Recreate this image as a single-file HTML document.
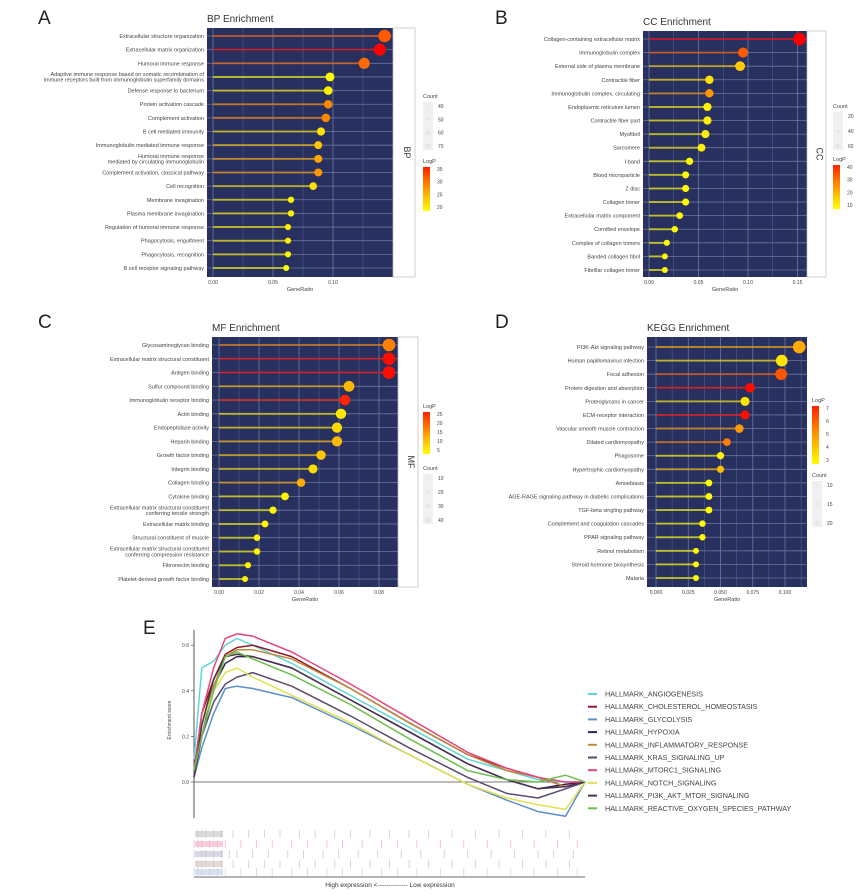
<!DOCTYPE html>
<html><head><meta charset="utf-8">
<style>
html,body{margin:0;padding:0;background:#fff;}
svg{display:block;font-family:"Liberation Sans",sans-serif;}
</style></head>
<body>
<svg id="fig" width="860" height="894" viewBox="0 0 860 894" xmlns="http://www.w3.org/2000/svg"></svg>
<script>
// ---------- Panel A (BP) ----------
const bpTerms = ["Extracellular structure organization","Extracellular matrix organization","Humoral immune response","Adaptive immune response based on somatic recombination of\nimmune receptors built from immunoglobulin superfamily domains","Defense response to bacterium","Protein activation cascade","Complement activation","B cell mediated immunity","Immunoglobulin mediated immune response","Humoral immune response\nmediated by circulating immunoglobulin","Complement activation, classical pathway","Cell recognition","Membrane invagination","Plasma membrane invagination","Regulation of humoral immune response","Phagocytosis, engulfment","Phagocytosis, recognition","B cell receptor signaling pathway"];
const bpRatio = [0.143,0.139,0.126,0.0975,0.096,0.096,0.094,0.090,0.0877,0.0877,0.0877,0.0835,0.065,0.065,0.0625,0.0625,0.0625,0.061];
const bpLogP = [31,37,30,20,21,28,28,22,24,26,27,22,21,21,21,21,21,20];
const bpCount = [72,70,64,52,50,50,50,48,47,47,47,45,38,38,37,37,37,36];
const bpTicks = [0,0.05,0.10];
const bpTickLabels = ["0.00","0.05","0.10"];
// ---------- Panel B (CC) ----------
const ccTerms = ["Collagen-containing extracellular matrix","Immunoglobulin complex","External side of plasma membrane","Contractile fiber","Immunoglobulin complex, circulating","Endoplasmic reticulum lumen","Contractile fiber part","Myofibril","Sarcomere","I band","Blood microparticle","Z disc","Collagen trimer","Extracellular matrix component","Cornified envelope","Complex of collagen trimers","Banded collagen fibril","Fibrillar collagen trimer"];
const ccRatio = [0.152,0.095,0.092,0.061,0.061,0.059,0.059,0.057,0.053,0.041,0.037,0.037,0.037,0.031,0.026,0.018,0.016,0.016];
const ccLogP = [42,30,15,12,22,10,10,10,10,9,9,9,9,9,8,8,8,8];
const ccCount = [62,42,40,28,28,27,27,26,24,20,18,18,18,15,13,10,9,9];
const ccTicks = [0,0.05,0.10,0.15];
const ccTickLabels = ["0.00","0.05","0.10","0.15"];
// ---------- Panel C (MF) ----------
const mfTerms = ["Glycosaminoglycan binding","Extracellular matrix structural constituent","Antigen binding","Sulfur compound binding","Immunoglobulin receptor binding","Actin binding","Endopeptidase activity","Heparin binding","Growth factor binding","Integrin binding","Collagen binding","Cytokine binding","Extracellular matrix structural constituent\nconferring tensile strength","Extracellular matrix binding","Structural constituent of muscle","Extracellular matrix structural constituent\nconferring compression resistance","Fibronectin binding","Platelet-derived growth factor binding"];
const mfRatio = [0.085,0.085,0.085,0.065,0.063,0.061,0.059,0.059,0.051,0.047,0.041,0.033,0.027,0.023,0.019,0.019,0.0145,0.013];
const mfLogP = [15,25,25,10,23,6,7,10,9,7,11,5,5,5,5,5,5,5];
const mfCount = [42,42,42,32,31,30,29,29,25,23,20,16,13,11,9,9,7,6];
const mfTicks = [0,0.02,0.04,0.06,0.08];
const mfTickLabels = ["0.00","0.02","0.04","0.06","0.08"];
// ---------- Panel D (KEGG) ----------
const kgTerms = ["PI3K-Akt signaling pathway","Human papillomavirus infection","Focal adhesion","Protein digestion and absorption","Proteoglycans in cancer","ECM-receptor interaction","Vascular smooth muscle contraction","Dilated cardiomyopathy","Phagosome","Hypertrophic cardiomyopathy","Amoebiasis","AGE-RAGE signaling pathway in diabetic complications","TGF-beta singling pathway","Complement and coagulation cascades","PPAR signaling pathway","Retinol metabolism","Steroid hormone biosynthesis","Malaria"];
const kgRatio = [0.111,0.0975,0.097,0.073,0.069,0.069,0.0646,0.055,0.050,0.050,0.041,0.041,0.041,0.036,0.036,0.031,0.031,0.031];
const kgLogP = [4.5,3.5,6,7.3,3.5,7.3,4.8,5.3,3.2,4.2,3,3,3,3,3,3,3,3];
const kgCount = [22,20,20,15,14,14,13,11,10,10,9,9,9,8,8,7,7,7];
const kgTicks = [0,0.025,0.05,0.075,0.1];
const kgTickLabels = ["0.000","0.025","0.050","0.075","0.100"];
// ---------- Panel E (GSEA) ----------
const gseaSets = ["HALLMARK_ANGIOGENESIS","HALLMARK_CHOLESTEROL_HOMEOSTASIS","HALLMARK_GLYCOLYSIS","HALLMARK_HYPOXIA","HALLMARK_INFLAMMATORY_RESPONSE","HALLMARK_KRAS_SIGNALING_UP","HALLMARK_MTORC1_SIGNALING","HALLMARK_NOTCH_SIGNALING","HALLMARK_PI3K_AKT_MTOR_SIGNALING","HALLMARK_REACTIVE_OXYGEN_SPECIES_PATHWAY"];
const gseaPos = [0,0.02,0.05,0.08,0.11,0.15,0.25,0.4,0.55,0.7,0.8,0.88,0.95,1];
const esAngio = [0.1,0.5,0.53,0.6,0.63,0.6,0.52,0.38,0.24,0.1,0.05,0.01,0.0,0.0];
const esChol = [0.05,0.3,0.45,0.56,0.59,0.6,0.55,0.41,0.26,0.12,0.06,0.02,-0.02,0];
const esGlyc = [0.02,0.15,0.3,0.41,0.42,0.41,0.37,0.25,0.12,-0.01,-0.08,-0.13,-0.15,0];
const esHypox = [0.02,0.2,0.42,0.52,0.55,0.55,0.5,0.36,0.22,0.08,0.01,-0.03,-0.01,0];
const esInfl = [0.05,0.25,0.42,0.55,0.58,0.58,0.54,0.41,0.26,0.12,0.05,0.02,-0.02,0];
const esKras = [0.03,0.2,0.35,0.43,0.46,0.48,0.42,0.29,0.15,0.02,-0.05,-0.07,-0.03,0];
const esMtorc = [0.05,0.3,0.5,0.63,0.65,0.64,0.57,0.43,0.28,0.13,0.06,0.02,0.0,0];
const esNotch = [0.02,0.25,0.4,0.48,0.5,0.46,0.38,0.26,0.12,-0.01,-0.07,-0.1,-0.12,0];
const esPi3k = [0.02,0.25,0.45,0.55,0.56,0.55,0.5,0.36,0.22,0.08,0.01,-0.03,-0.02,0];
const esRos = [0.05,0.2,0.4,0.55,0.57,0.54,0.47,0.34,0.19,0.05,0.01,0.0,0.03,0];
const esTicks = [0,0.2,0.4,0.6];
const esTickLabels = ["0.0","0.2","0.4","0.6"];
const rugHitsA = [0.01,0.02,0.03,0.05,0.07,0.1,0.14,0.18,0.22,0.27,0.31,0.36,0.4,0.45,0.5,0.55,0.6,0.66,0.72,0.78,0.84,0.9,0.96];
const rugHitsB = [0.0,0.01,0.02,0.04,0.06,0.08,0.12,0.16,0.2,0.25,0.29,0.34,0.38,0.43,0.48,0.52,0.57,0.63,0.69,0.75,0.81,0.87,0.93,0.98];
const rugHitsC = [0.0,0.02,0.03,0.05,0.07,0.09,0.11,0.15,0.19,0.24,0.28,0.33,0.37,0.42,0.47,0.53,0.58,0.64,0.7,0.76,0.82,0.88,0.92,0.97];

const SVGNS = "http://www.w3.org/2000/svg";
const fig = document.getElementById('fig');
function mk(tag, attrs, parent, name, inter) {
  const el = document.createElementNS(SVGNS, tag);
  for (const k in attrs) el.setAttribute(k, attrs[k]);
  
  
  (parent || fig).appendChild(el);
  return el;
}
function txt(x, y, s, attrs, parent, name) {
  const a = Object.assign({x: x, y: y}, attrs);
  const t = mk('text', a, parent, name, false);
  t.textContent = s;
  return t;
}
function lpColor(v, lo, hi) {
  let f = (v - lo) / (hi - lo); f = Math.max(0, Math.min(1, f));
  return 'rgb(255,' + Math.round(255 * (1 - f)) + ',0)';
}

function lollipop(cfg) {
  const g = mk('g', {}, fig, cfg.name, false);
  const xs = v => cfg.x0 + v * cfg.k;
  const n = cfg.terms.length;
  const ys = i => cfg.yTop + i * (cfg.yBot - cfg.yTop) / (n - 1);
  txt(cfg.px, cfg.py - 6, cfg.title, {'font-size': 10, fill: '#333'}, g, 'panel-title');
  mk('rect', {x: cfg.px, y: cfg.py, width: cfg.pw, height: cfg.ph, fill: '#27305f'}, g, 'plot-background', false);
  const step = cfg.ticks[1] - cfg.ticks[0];
  for (let i = -1; i < cfg.ticks.length + 1; i++) {
    const xm = xs(cfg.ticks[0] + (i + 0.5) * step);
    if (xm > cfg.px && xm < cfg.px + cfg.pw)
      mk('line', {x1: xm, x2: xm, y1: cfg.py, y2: cfg.py + cfg.ph, stroke: '#5a6390', 'stroke-width': 0.5}, g, 'minor-gridline', false);
  }
  cfg.ticks.forEach((t, i) => {
    const x = xs(t);
    mk('line', {x1: x, x2: x, y1: cfg.py, y2: cfg.py + cfg.ph, stroke: '#6d769f', 'stroke-width': 0.8}, g, 'major-gridline', false);
    txt(x, cfg.py + cfg.ph + 7, cfg.tickLabels[i], {'font-size': 5, fill: '#444', 'text-anchor': 'middle'}, g, 'x-tick-label');
  });
  txt(cfg.px + cfg.pw / 2, cfg.py + cfg.ph + 14, 'GeneRatio', {'font-size': 5.5, fill: '#444', 'text-anchor': 'middle'}, g, 'x-axis-title');
  for (let i = 0; i < n; i++) {
    const y = ys(i);
    mk('line', {x1: cfg.px, x2: cfg.px + cfg.pw, y1: y, y2: y, stroke: '#6d769f', 'stroke-width': 0.8}, g, 'row-gridline', false);
  }
  for (let i = 0; i < n; i++) {
    const y = ys(i);
    const col = lpColor(cfg.logp[i], cfg.lpLo, cfg.lpHi);
    mk('line', {x1: xs(0), x2: xs(cfg.ratio[i]), y1: y, y2: y, stroke: col, 'stroke-width': 2, 'stroke-opacity': 0.6}, g, 'lollipop-stem', false);
    const r = 3 + 3.3 * Math.max(0, (cfg.count[i] - cfg.cLo) / (cfg.cHi - cfg.cLo));
    mk('circle', {cx: xs(cfg.ratio[i]), cy: y, r: r, fill: col}, g, 'lollipop-dot', true);
    const lines = cfg.terms[i].split('\n');
    lines.forEach((s, j) => {
      txt(cfg.px - 3, y + 2 + (j - (lines.length - 1) / 2) * 5.6, s, {'font-size': 5.5, fill: '#444', 'text-anchor': 'end'}, g, 'y-category-label');
    });
  }
  if (cfg.strip) {
    mk('rect', {x: cfg.px + cfg.pw, y: cfg.py, width: cfg.stripW, height: cfg.ph, fill: '#fff', stroke: '#bbb', 'stroke-width': 0.7}, g, 'facet-strip', false);
    const sx = cfg.px + cfg.pw + cfg.stripW / 2, sy = cfg.py + cfg.ph / 2;
    txt(sx, sy, cfg.strip, {'font-size': 9, fill: '#333', 'text-anchor': 'middle', transform: 'rotate(90 ' + sx + ' ' + sy + ')'}, g, 'facet-label');
  }
  txt(cfg.lx, cfg.ly, cfg.letter, {'font-size': 19, fill: '#222'}, g, 'panel-letter');
  cfg.legends.forEach(L => {
    if (L.type === 'count') {
      txt(L.x, L.y, 'Count', {'font-size': 5.5, fill: '#444'}, g, 'count-legend-title');
      mk('rect', {x: L.x, y: L.y + 4, width: 10, height: L.h, fill: '#f0f0f0'}, g, 'count-legend-keys', false);
      L.labels.forEach((s, i) => {
        const y = L.y + 10 + i * (L.h - 8) / (L.labels.length - 1);
        mk('circle', {cx: L.x + 5, cy: y - 2, r: 1 + i * 0.6, fill: '#e6e6e6'}, g, 'count-legend-dot', false);
        txt(L.x + 15, y, s, {'font-size': 5, fill: '#444'}, g, 'count-legend-label');
      });
    } else {
      txt(L.x, L.y, 'LogP', {'font-size': 5.5, fill: '#444'}, g, 'logp-legend-title');
      const gid = 'grad' + cfg.letter;
      const defs = mk('defs', {}, g, 'defs', false);
      const lg = mk('linearGradient', {id: gid, x1: 0, y1: 0, x2: 0, y2: 1}, defs, 'colorbar-gradient', false);
      mk('stop', {offset: '0', 'stop-color': '#ff2000'}, lg, 'stop-high', false);
      mk('stop', {offset: '0.5', 'stop-color': '#ff9900'}, lg, 'stop-mid', false);
      mk('stop', {offset: '1', 'stop-color': '#ffff00'}, lg, 'stop-low', false);
      mk('rect', {x: L.x, y: L.y + 4, width: 7, height: L.h, fill: 'url(#' + gid + ')'}, g, 'logp-colorbar', false);
      L.labels.forEach((s, i) => {
        const y = L.y + 8 + i * (L.h - 6) / (L.labels.length - 1);
        txt(L.x + 14, y, s, {'font-size': 5, fill: '#444'}, g, 'logp-legend-label');
      });
    }
  });
}

lollipop({name: 'panel-a-bp', letter: 'A', lx: 38, ly: 24, title: 'BP Enrichment', px: 207, py: 28, pw: 186, ph: 249, x0: 213, k: 1200,
  yTop: 36, yBot: 268, terms: bpTerms, ratio: bpRatio, logp: bpLogP, count: bpCount, ticks: bpTicks, tickLabels: bpTickLabels,
  lpLo: 20, lpHi: 37, cLo: 36, cHi: 72, strip: 'BP', stripW: 22,
  legends: [{type: 'count', x: 423, y: 98, h: 48, labels: ['40','50','60','70']}, {type: 'logp', x: 423, y: 163, h: 44, labels: ['35','30','25','20']}]});
lollipop({name: 'panel-b-cc', letter: 'B', lx: 495, ly: 24, title: 'CC Enrichment', px: 643, py: 31, pw: 164, ph: 246, x0: 649, k: 990,
  yTop: 39, yBot: 270, terms: ccTerms, ratio: ccRatio, logp: ccLogP, count: ccCount, ticks: ccTicks, tickLabels: ccTickLabels,
  lpLo: 8, lpHi: 42, cLo: 9, cHi: 62, strip: 'CC', stripW: 19,
  legends: [{type: 'count', x: 833, y: 108, h: 38, labels: ['20','40','60']}, {type: 'logp', x: 833, y: 161, h: 44, labels: ['40','30','20','10']}]});
lollipop({name: 'panel-c-mf', letter: 'C', lx: 38, ly: 328, title: 'MF Enrichment', px: 212, py: 337, pw: 186, ph: 250, x0: 219, k: 2000,
  yTop: 345, yBot: 579, terms: mfTerms, ratio: mfRatio, logp: mfLogP, count: mfCount, ticks: mfTicks, tickLabels: mfTickLabels,
  lpLo: 4, lpHi: 26, cLo: 6, cHi: 42, strip: 'MF', stripW: 20,
  legends: [{type: 'logp', x: 423, y: 408, h: 42, labels: ['25','20','15','10','5']}, {type: 'count', x: 423, y: 470, h: 50, labels: ['10','20','30','40']}]});
lollipop({name: 'panel-d-kegg', letter: 'D', lx: 495, ly: 328, title: 'KEGG Enrichment', px: 647, py: 337, pw: 160, ph: 250, x0: 656, k: 1290,
  yTop: 347, yBot: 578, terms: kgTerms, ratio: kgRatio, logp: kgLogP, count: kgCount, ticks: kgTicks, tickLabels: kgTickLabels,
  lpLo: 3, lpHi: 7.5, cLo: 7, cHi: 22, strip: null,
  legends: [{type: 'logp', x: 812, y: 402, h: 58, labels: ['7','6','5','4','3']}, {type: 'count', x: 812, y: 477, h: 46, labels: ['10','15','20']}]});

// ---------- Panel E ----------
(function () {
  const g = mk('g', {}, fig, 'panel-e-gsea', false);
  const X0 = 194, W = 391, Y0 = 782, K = 228;
  const xs = f => X0 + f * W;
  const ys = v => Y0 - v * K;
  txt(143, 634, 'E', {'font-size': 19, fill: '#222'}, g, 'panel-letter');
  mk('line', {x1: X0, x2: X0, y1: 630, y2: 818, stroke: '#555', 'stroke-width': 1}, g, 'y-axis', false);
  mk('line', {x1: X0, x2: X0 + W, y1: ys(0), y2: ys(0), stroke: '#777', 'stroke-width': 1}, g, 'zero-line', false);
  esTicks.forEach((t, i) => {
    mk('line', {x1: X0 - 3, x2: X0, y1: ys(t), y2: ys(t), stroke: '#555', 'stroke-width': 0.7}, g, 'y-tick', false);
    txt(X0 - 5, ys(t) + 2, esTickLabels[i], {'font-size': 5, fill: '#444', 'text-anchor': 'end'}, g, 'y-tick-label');
  });
  txt(171, 720, 'Enrichment score', {'font-size': 5, fill: '#444', 'text-anchor': 'middle', transform: 'rotate(-90 171 720)'}, g, 'y-axis-title');
  const series = [esAngio, esChol, esGlyc, esHypox, esInfl, esKras, esMtorc, esNotch, esPi3k, esRos];
  const cols = ['#5fd6d6','#8e1c2a','#5b8fcc','#3d1f4e','#c08a3e','#5a4a6e','#e8457a','#e2e050','#4a3254','#6cc04a'];
  series.forEach((s, i) => {
    const pts = s.map((v, j) => xs(gseaPos[j]).toFixed(1) + ',' + ys(v).toFixed(1)).join(' ');
    mk('polyline', {points: pts, fill: 'none', stroke: cols[i], 'stroke-width': 1.5, 'stroke-linejoin': 'round'}, g, 'es-curve', false);
  });
  const rugs = [[rugHitsA, '#cccccc', 830], [rugHitsB, '#f2b8c8', 840], [rugHitsC, '#c8c8d8', 850], [rugHitsA, '#d8c8c8', 860], [rugHitsB, '#c8d4e8', 868]];
  rugs.forEach(r => {
    r[0].forEach(h => {
      mk('line', {x1: xs(h), x2: xs(h), y1: r[2], y2: r[2] + 8, stroke: r[1], 'stroke-width': 0.8}, g, 'rug-tick', false);
    });
    mk('rect', {x: X0 + 1, y: r[2] + 1, width: 28, height: 6, fill: r[1], opacity: 0.7}, g, 'rug-block', false);
  });
  mk('line', {x1: X0, x2: X0 + W, y1: 877, y2: 877, stroke: '#888', 'stroke-width': 1.2}, g, 'rug-baseline', false);
  txt(390, 887, 'High expression <-------------- Low expression', {'font-size': 6.5, fill: '#333', 'text-anchor': 'middle'}, g, 'x-axis-title');
  gseaSets.forEach((s, i) => {
    const y = 694 + i * 12.7;
    mk('line', {x1: 588, x2: 597, y1: y, y2: y, stroke: cols[i], 'stroke-width': 2}, g, 'legend-swatch', false);
    txt(605, y + 2.5, s, {'font-size': 7.2, fill: '#444'}, g, 'legend-entry');
  });
})();
</script>
</body></html>
